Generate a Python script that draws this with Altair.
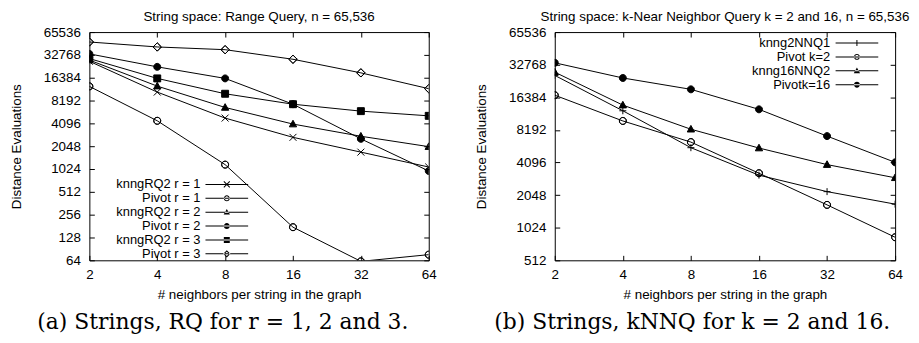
import math
import altair as alt
import pandas as pd

# ---------------- data ----------------
x_vals = [2, 4, 8, 16, 32, 64]

rq_names = ["knngRQ2 r = 1", "Pivot r = 1", "knngRQ2 r = 2",
            "Pivot r = 2", "knngRQ2 r = 3", "Pivot r = 3"]
knng_r1 = [27000, 10600, 4810, 2680, 1710, 1088]
pivot_r1 = [12600, 4430, 1170, 175, 62, 76]
knng_r2 = [28000, 12700, 6640, 4010, 2770, 2020]
pivot_r2 = [33800, 22800, 16050, 7330, 2560, 964]
knng_r3 = [29300, 16050, 10070, 7330, 5940, 5150]
pivot_r3 = [48500, 41700, 38400, 28700, 19000, 11750]
rq_kinds = ["x", "circle_open", "triangle", "circle", "square", "diamond_open"]

knn_names = ["knng2NNQ1", "Pivot k=2", "knng16NNQ2", "Pivotk=16"]
knng2 = [26100, 12300, 5610, 3128, 2205, 1690]
pivot_k2 = [17130, 9910, 6320, 3260, 1664, 836]
knng16 = [27960, 13870, 8310, 5570, 3917, 2960]
pivot_k16 = [34100, 24700, 19400, 12680, 7180, 4110]
knn_kinds = ["plus", "circle_open", "triangle", "circle"]

y_ticks_rq = [64, 128, 256, 512, 1024, 2048, 4096, 8192, 16384, 32768, 65536]
y_ticks_knn = [512, 1024, 2048, 4096, 8192, 16384, 32768, 65536]

title_rq = "String space: Range Query, n = 65,536"
title_knn = "String space: k-Near Neighbor Query k = 2 and 16, n = 65,536"
caption_rq = "(a) Strings, RQ for r = 1, 2 and 3."
caption_knn = "(b) Strings, kNNQ for k = 2 and 16."
x_title = "# neighbors per string in the graph"
y_title = "Distance Evaluations"

SANS = "Liberation Sans"
SERIF = "DejaVu Serif"
FS = 13.5
LEG_FS = 13


def f(v):
    return f"{v:.3f}".rstrip("0").rstrip(".")


def poly(pts, reverse=False):
    p = list(reversed(pts)) if reverse else pts
    s = "M" + f(p[0][0]) + "," + f(p[0][1])
    for x, y in p[1:]:
        s += "L" + f(x) + "," + f(y)
    return s + "Z"


def circle_pts(r):
    return [(r * math.cos(2 * math.pi * i / 16), r * math.sin(2 * math.pi * i / 16)) for i in range(16)]


def marker(kind, m):
    """stroked marker for the data points"""
    circ = circle_pts(m)
    tri = [(0, -1.1 * m), (1.05 * m, 0.8 * m), (-1.05 * m, 0.8 * m)]
    sq = [(-m, -m), (m, -m), (m, m), (-m, m)]
    dia = [(0, -1.2 * m), (1.2 * m, 0), (0, 1.2 * m), (-1.2 * m, 0)]
    if kind == "x":
        return f"M{f(-m)},{f(-m)}L{f(m)},{f(m)}M{f(-m)},{f(m)}L{f(m)},{f(-m)}"
    if kind == "plus":
        return f"M{f(-m)},0L{f(m)},0M0,{f(-m)}L0,{f(m)}"
    if kind == "circle":
        return poly(circ)
    if kind == "circle_open":
        return poly(circ) + poly(circ, True)
    if kind == "triangle":
        return poly(tri)
    if kind == "square":
        return poly(sq)
    if kind == "diamond_open":
        return poly(dia) + poly(dia, True)
    return poly(circ)


def bar(x0, y0, x1, y1, t):
    """thin filled rectangle from (x0,y0) to (x1,y1) with thickness t"""
    dx, dy = x1 - x0, y1 - y0
    ln = math.hypot(dx, dy)
    nx, ny = -dy / ln * t / 2, dx / ln * t / 2
    return poly([(x0 + nx, y0 + ny), (x1 + nx, y1 + ny), (x1 - nx, y1 - ny), (x0 - nx, y0 - ny)])


def legend_marker(kind, half, m=0.6, t=0.2):
    """fill-only legend sample: line + marker"""
    s = bar(-half, 0, half, 0, t)
    if kind == "x":
        s += bar(-m, -m, m, m, t) + bar(-m, m, m, -m, t)
    elif kind == "plus":
        s += bar(0, -m, 0, m, t)
    elif kind == "circle":
        s += poly(circle_pts(m))
    elif kind == "circle_open":
        s += poly(circle_pts(m)) + poly(circle_pts(m - t), True)
    elif kind == "triangle":
        s += poly([(0, -1.1 * m), (1.05 * m, 0.8 * m), (-1.05 * m, 0.8 * m)])
    elif kind == "square":
        s += poly([(-m, -m), (m, -m), (m, m), (-m, m)])
    elif kind == "diamond_open":
        a = 1.2 * m
        b = a - t * 1.4
        s += poly([(0, -a), (a, 0), (0, a), (-a, 0)]) + poly([(0, -b), (b, 0), (0, b), (-b, 0)], True)
    return s


def long_df(names, series):
    rows = []
    for name, ys in zip(names, series):
        for x, y in zip(x_vals, ys):
            rows.append({"series": name, "x": x, "y": y})
    return pd.DataFrame(rows)


def panel(names, series, kinds, title, y_dom, y_ticks, width, lx, ly, sym_off, lab_off, half):
    df = long_df(names, series)
    xs = alt.Scale(type="log", base=2, domain=[2, 64], nice=False)
    ys = alt.Scale(type="log", base=2, domain=y_dom, nice=False)
    base = alt.Chart(df)
    lines = base.mark_line(color="black", strokeWidth=1, clip=True).encode(
        x=alt.X("x:Q", scale=xs, axis=alt.Axis(
            orient="bottom", values=x_vals, format="d", title=x_title, offset=-5,
            tickSize=5, domain=False, grid=False, labelPadding=7, titlePadding=7,
            labelFlush=False, labelOverlap=False)),
        y=alt.Y("y:Q", scale=ys, axis=alt.Axis(
            orient="left", values=y_ticks, format="d", title=y_title, offset=-5,
            tickSize=5, domain=False, grid=False, labelPadding=9, titlePadding=20,
            labelFlush=False, labelOverlap=False)),
        detail="series:N",
    )
    points = base.mark_point(filled=True, color="black", stroke="black", strokeWidth=1,
                             size=49, opacity=1, clip=True).encode(
        x=alt.X("x:Q", scale=xs, axis=alt.Axis(
            orient="top", values=x_vals, labels=False, title=None, offset=-5,
            tickSize=5, domain=False, grid=False)),
        y=alt.Y("y:Q", scale=ys, axis=alt.Axis(
            orient="right", values=y_ticks, labels=False, title=None, offset=-5,
            tickSize=5, domain=False, grid=False)),
        shape=alt.Shape("series:N", scale=alt.Scale(
            domain=names, range=[marker(k, 1) for k in kinds]), legend=None),
    )
    leg = base.transform_filter("false").mark_point(
        filled=True, color="black", opacity=1).encode(
        shape=alt.Shape("series:N", scale=alt.Scale(
            domain=names, range=[legend_marker(k, half) for k in kinds]),
            legend=alt.Legend(
                orient="none", legendX=lx, legendY=ly, title=None,
                labelAlign="right", labelOffset={"expr": str(lab_off)}, symbolOffset=sym_off,
                labelFont=SANS, labelFontSize=LEG_FS, labelColor="black",
                symbolSize=100, symbolFillColor="black", symbolStrokeWidth=0,
                rowPadding={"expr": "-3"}, padding=0, labelLimit=400)),
    )
    return alt.layer(lines, points, leg).resolve_scale(shape="independent").resolve_axis(
        x="independent", y="independent").properties(
        width=width, height=230,
        title=alt.TitleParams(title, font=SANS, fontSize=FS, fontWeight="normal",
                              color="black", offset=2, frame="group", anchor="middle"))


left = panel(rq_names, [knng_r1, pivot_r1, knng_r2, pivot_r2, knng_r3, pivot_r3], rq_kinds,
             title_rq, [64, 65536], y_ticks_rq, 342, 0, 147, 132, -33, 4.3)
right = panel(knn_names, [knng2, pivot_k2, knng16, pivot_k16], knn_kinds,
              title_knn, [512, 65536], y_ticks_knn, 343, 0, 4.5, 298, -33.5, 4.3)

cap_a = alt.vconcat(left, title=alt.TitleParams(caption_rq, orient="bottom", font=SERIF,
                                                  fontSize=22, fontWeight="normal",
                                                  color="black", offset=11, anchor="middle"))
cap_b = alt.vconcat(right, title=alt.TitleParams(caption_knn, orient="bottom", font=SERIF,
                                                   fontSize=22, fontWeight="normal",
                                                   color="black", offset=11, anchor="middle"))

chart = alt.hconcat(cap_a, cap_b, spacing=36).properties(
    padding={"left": 0, "top": 0, "right": 0, "bottom": 0}
).configure_view(stroke="black", strokeWidth=1).configure_axis(
    labelFont=SANS, labelFontSize=FS, labelColor="black",
    titleFont=SANS, titleFontSize=FS, titleFontWeight="normal", titleColor="black",
    tickColor="black", tickWidth=1,
)

chart.save("out.html", embed_options={"renderer": "svg", "actions": False})
